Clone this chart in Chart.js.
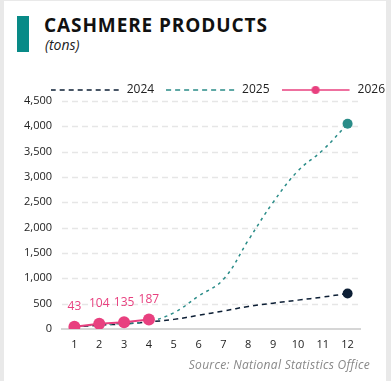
<!DOCTYPE html>
<html>
<head>
<meta charset="utf-8">
<script src="https://cdn.jsdelivr.net/npm/chart.js@4"></script>
<style>
  html, body { margin: 0; padding: 0; width: 391px; height: 381px; overflow: hidden; background: #e9e9e9; font-family: "Open Sans", sans-serif; }
  #card { position: absolute; left: 4px; top: 1px; width: 382px; height: 380px; background: #fff; }
  #bar { position: absolute; left: 17px; top: 16px; width: 12px; height: 36px; background: #088a87; }
  #title { position: absolute; left: 44px; top: 12px; font-size: 19px; font-weight: 700; color: #111; letter-spacing: 0.9px; white-space: nowrap; }
  #sub { position: absolute; left: 45px; top: 35px; font-size: 14px; font-style: italic; color: #222; }
  #src { position: absolute; right: 21px; top: 356px; font-size: 12px; font-style: italic; color: #888; letter-spacing: 0.3px; white-space: nowrap; }
  #wrap { position: absolute; left: 0; top: 70px; width: 397px; height: 290px; }
</style>
</head>
<body>
<div id="card"></div>
<div id="bar"></div>
<div id="title">CASHMERE PRODUCTS</div>
<div id="sub">(tons)</div>
<div id="wrap"><canvas id="c"></canvas></div>
<div id="src">Source: National Statistics Office</div>
<script>
const months = ["1","2","3","4","5","6","7","8","9","10","11","12"];
const seriesNames = ["2024", "2025", "2026"];
const values2024 = [40, 75, 100, 140, 190, 270, 355, 445, 510, 570, 630, 700];
const values2025 = [45, 85, 110, 150, 320, 650, 980, 1750, 2500, 3120, 3530, 4050];
const values2026 = [43, 104, 135, 187];
const yTicks = [0, 500, 1000, 1500, 2000, 2500, 3000, 3500, 4000, 4500];

const NAVY = "#0d1f35", TEAL = "#2a8c88", PINK = "#e8407f";

function legendImg(color, dash, dot) {
  const c = document.createElement("canvas");
  c.width = 70; c.height = 12;
  const g = c.getContext("2d");
  g.strokeStyle = color; g.lineWidth = 1.5;
  g.setLineDash(dash);
  g.beginPath(); g.moveTo(0, 6); g.lineTo(68, 6); g.stroke();
  if (dot) { g.setLineDash([]); g.fillStyle = color; g.beginPath(); g.arc(34, 6, 4, 0, Math.PI * 2); g.fill(); }
  return c;
}
const legendImgs = [legendImg(NAVY, [5, 4], false), legendImg(TEAL, [5, 4], false), legendImg(PINK, [], true)];

const lastOnly = (r) => (ctx) => ctx.dataIndex === 11 ? r : 0;

const valueLabels = {
  id: "valueLabels",
  afterDatasetsDraw(chart) {
    const idx = chart.data.datasets.findIndex(d => d.label === "2026");
    const meta = chart.getDatasetMeta(idx);
    const ctx = chart.ctx;
    ctx.save();
    ctx.font = "12px 'Open Sans'";
    ctx.fillStyle = PINK;
    ctx.textAlign = "center";
    ctx.textBaseline = "middle";
    meta.data.forEach((pt, i) => {
      ctx.fillText(String(values2026[i]), pt.x, pt.y - 20);
    });
    ctx.restore();
  }
};

// dashed horizontal gridlines drawn at the y scale's tick positions
const dashedGrid = {
  id: "dashedGrid",
  beforeDatasetsDraw(chart) {
    const y = chart.scales.y, area = chart.chartArea, ctx = chart.ctx;
    ctx.save();
    ctx.strokeStyle = "#e6e6e6";
    ctx.lineWidth = 1.5;
    ctx.setLineDash([6, 4]);
    y.ticks.forEach(t => {
      if (t.value === 0) return;
      const py = Math.round(y.getPixelForValue(t.value)) + 0.5;
      ctx.beginPath(); ctx.moveTo(area.left, py); ctx.lineTo(area.right, py); ctx.stroke();
    });
    ctx.restore();
  }
};

const legendHeight = {
  id: "legendHeight",
  beforeUpdate(chart) {
    if (chart.legend && !chart.legend._patched) {
      const f = chart.legend.fit;
      chart.legend.fit = function () { f.call(this); this.height = 29; };
      chart.legend._patched = true;
    }
  }
};

new Chart(document.getElementById("c"), {
  type: "line",
  data: {
    labels: months,
    datasets: [
      { label: seriesNames[0], data: values2024, borderColor: NAVY, backgroundColor: NAVY, borderWidth: 1.5, borderDash: [5, 4], tension: 0.4, pointRadius: lastOnly(5), pointHoverRadius: lastOnly(5), pointBorderWidth: 0, order: 3 },
      { label: seriesNames[1], data: values2025, borderColor: TEAL, backgroundColor: TEAL, borderWidth: 1.5, borderDash: [3, 4], tension: 0.4, pointRadius: lastOnly(5), pointHoverRadius: lastOnly(5), pointBorderWidth: 0, order: 2 },
      { label: seriesNames[2], data: values2026, borderColor: PINK, backgroundColor: PINK, borderWidth: 2, tension: 0, pointRadius: 6, pointHoverRadius: 6, pointBorderWidth: 0, order: 1 }
    ]
  },
  options: {
    responsive: true,
    maintainAspectRatio: false,
    animation: false,
    layout: { padding: { left: 0, right: 0, top: 2, bottom: 0 } },
    plugins: {
      tooltip: { enabled: false },
      legend: {
        position: "top",
        align: "end",
        labels: {
          usePointStyle: true,
          pointStyleWidth: 70,
          boxHeight: 12,
          padding: 12,
          color: "#222",
          font: { family: "Open Sans", size: 12 },
          sort: (a, b) => a.datasetIndex - b.datasetIndex,
          generateLabels(chart) {
            const items = Chart.defaults.plugins.legend.labels.generateLabels(chart);
            items.forEach(it => { it.pointStyle = legendImgs[it.datasetIndex]; });
            return items;
          }
        }
      }
    },
    scales: {
      x: {
        offset: true,
        grid: { display: false, drawTicks: false },
        border: { display: true, color: "#d6d6d6", width: 2 },
        ticks: { color: "#222", font: { family: "Open Sans", size: 11 }, padding: 9, maxRotation: 0 },
        afterFit(s) { s.height = 31; }
      },
      y: {
        min: 0, max: 4500,
        afterBuildTicks(s) { s.ticks = yTicks.map(v => ({ value: v })); },
        grid: { display: false, drawTicks: false },
        border: { display: false },
        ticks: { color: "#222", font: { family: "Open Sans", size: 11 }, padding: 10, callback: (v) => v.toLocaleString("en-US") },
        afterFit(s) { s.width = 62; }
      },
      yR: {
        type: "linear",
        position: "right",
        grid: { display: false, drawTicks: false },
        border: { display: false },
        ticks: { display: false },
        afterFit(s) { s.width = 37; }
      }
    }
  },
  plugins: [dashedGrid, valueLabels, legendHeight]
});
</script>
</body>
</html>
